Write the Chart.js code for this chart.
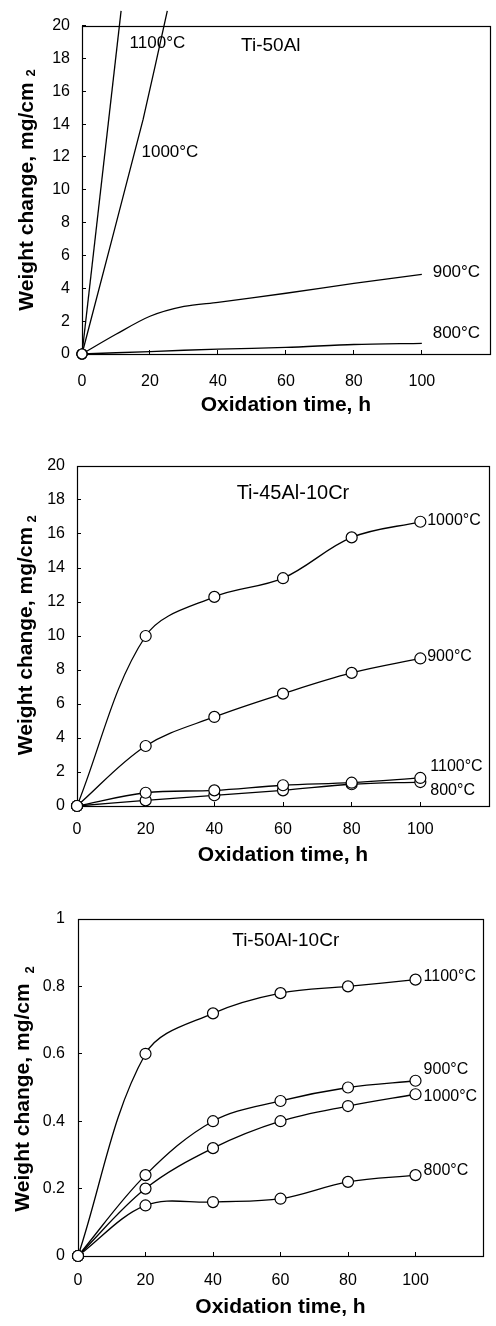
<!DOCTYPE html>
<html><head><meta charset="utf-8">
<script src="https://cdn.jsdelivr.net/npm/chart.js@4.4.0/dist/chart.umd.min.js"></script>
<style>
body{margin:0;background:#fff;width:496px;height:1326px;position:relative;overflow:hidden}
canvas{position:absolute;left:0}
</style></head><body>
<canvas id="c1" width="496" height="420" style="top:0"></canvas>
<canvas id="c2" width="496" height="440" style="top:440px"></canvas>
<canvas id="c3" width="496" height="446" style="top:880px"></canvas>
<script>
// ---------- DATA ----------
const xTicksMax = 100;            // last labelled hour
const hours = [0, 20, 40, 60, 80, 100];

// Ti-50Al (no symbols except origin)
const p1_1100_t = [0, 11.5];
const p1_1100_w = [0, 20.9];
const p1_1000_t = [0, 18, 25.1];
const p1_1000_w = [0, 14.3, 20.9];
const p1_900_t  = [0, 10, 20, 30, 40, 60, 80, 100];
const p1_900_w  = [0, 1.2, 2.3, 2.9, 3.15, 3.7, 4.3, 4.85];
const p1_800_t  = [0, 20, 40, 60, 80, 100];
const p1_800_w  = [0, 0.15, 0.3, 0.4, 0.58, 0.65];

// Ti-45Al-10Cr
const p2_1000 = [0, 10, 12.3, 13.4, 15.8, 16.72];
const p2_900  = [0, 3.53, 5.24, 6.61, 7.83, 8.68];
const p2_1100 = [0, 0.78, 0.92, 1.22, 1.37, 1.65];
const p2_800  = [0, 0.33, 0.63, 0.92, 1.28, 1.41];

// Ti-50Al-10Cr
const p3_1100 = [0, 0.6, 0.72, 0.78, 0.8, 0.82];
const p3_900  = [0, 0.24, 0.4, 0.46, 0.5, 0.52];
const p3_1000 = [0, 0.2, 0.32, 0.4, 0.445, 0.48];
const p3_800  = [0, 0.15, 0.16, 0.17, 0.22, 0.24];

// tick settings
const p1_yTicks = {min: 0, max: 20, step: 2};
const p2_yTicks = {min: 0, max: 20, step: 2};
const p3_yTicks = {min: 0, max: 1, step: 0.2};
const xRange = {min: 0, max: 120, step: 20};

// text
const xTitle = 'Oxidation time, h';
const yTitle = 'Weight change, mg/cm';

// ---------- RENDER ----------
const FONT = '"Liberation Sans", Arial, Helvetica, sans-serif';
const zip = (t, w) => t.map((v, i) => ({x: v, y: w[i]}));

function makePlugin(cfg) {
  return {
    id: 'annot',
    beforeDatasetsDraw(chart) {
      const a = chart.chartArea, c = chart.ctx;
      c.save(); c.strokeStyle = '#000'; c.lineWidth = 1.2;
      c.strokeRect(Math.round(a.left) + 0.5, Math.round(a.top) + 0.5,
                   Math.round(a.right - a.left), Math.round(a.bottom - a.top));
      c.restore();
    },
    afterDraw(chart) {
      const c = chart.ctx, a = chart.chartArea;
      const xs = chart.scales.x, ys = chart.scales.y;
      c.save();
      c.fillStyle = '#000';
      cfg.labels.forEach(l => {
        c.font = (l.size || 16) + 'px ' + FONT;
        c.textAlign = 'left'; c.textBaseline = 'middle';
        c.fillText(l.text, xs.getPixelForValue(l.x), ys.getPixelForValue(l.y));
      });
      c.font = 'bold 21px ' + FONT;
      c.textAlign = 'center'; c.textBaseline = 'middle';
      c.fillText(xTitle, (a.left + a.right) / 2, cfg.xTitleY);
      c.translate(cfg.yT.cx, cfg.yT.cy);
      c.rotate(-Math.PI / 2);
      c.fillText(yTitle, 0, 0);
      c.font = 'bold 13px ' + FONT;
      c.fillText('2', cfg.yT.u2, cfg.yT.v2);
      c.restore();
    }
  };
}

function lineDs(data, withPts, tension) {
  return {
    data, borderColor: '#000', borderWidth: 1.3,
    tension: tension === undefined ? 0.35 : tension,
    pointStyle: 'circle', pointBackgroundColor: '#fff', pointBorderColor: '#000',
    pointBorderWidth: 1.2,
    pointRadius: withPts ? 5.5 : (ctx => ctx.dataIndex === 0 ? 5 : 0),
    pointHoverRadius: withPts ? 5.5 : 0,
    clip: false, fill: false
  };
}

function makeChart(id, datasets, geo, yT, cfg) {
  const canvas = document.getElementById(id);
  const H = canvas.height;
  new Chart(canvas, {
    type: 'line',
    data: {datasets},
    plugins: [makePlugin(cfg)],
    options: {
      responsive: false, animation: false, devicePixelRatio: 1,
      layout: {padding: {top: geo.top, right: 496 - geo.right, left: 0, bottom: 0}},
      plugins: {legend: {display: false}, tooltip: {enabled: false}},
      scales: {
        x: {
          type: 'linear', min: xRange.min, max: xRange.max,
          afterFit: s => { s.height = H - geo.bottom; },
          afterBuildTicks: s => { s.ticks = s.ticks.filter(t => t.value <= xTicksMax); },
          ticks: {stepSize: xRange.step, color: '#000', font: {family: FONT, size: 16},
                  padding: geo.xPad, maxRotation: 0},
          grid: {drawOnChartArea: false, drawTicks: true, tickLength: -4, color: '#000', lineWidth: 1},
          border: {display: false}
        },
        y: {
          type: 'linear', min: yT.min, max: yT.max,
          afterFit: s => { s.width = geo.left; },
          ticks: {stepSize: yT.step, color: '#000', font: {family: FONT, size: 16}, padding: geo.yPad,
                  callback: v => String(Math.round(v * 10) / 10)},
          grid: {drawOnChartArea: false, drawTicks: true, tickLength: -4, color: '#000', lineWidth: 1},
          border: {display: false}
        }
      }
    }
  });
}

// Panel 1
makeChart('c1', [
  lineDs(zip(p1_1100_t, p1_1100_w), false, 0),
  lineDs(zip(p1_1000_t, p1_1000_w), false, 0.1),
  lineDs(zip(p1_900_t, p1_900_w), false, 0.3),
  lineDs(zip(p1_800_t, p1_800_w), false, 0.3)
], {left: 82, right: 491, top: 14, bottom: 354, xPad: 22, yPad: 16}, p1_yTicks, {
  labels: [
    {text: '1100°C', x: 14.0, y: 18.9, size: 17},
    {text: 'Ti-50Al', x: 46.8, y: 18.8, size: 19},
    {text: '1000°C', x: 17.5, y: 12.3, size: 17},
    {text: '900°C', x: 103.2, y: 4.96, size: 17},
    {text: '800°C', x: 103.2, y: 1.24, size: 17}
  ],
  xTitleY: 405,
  yT: {cx: 27, cy: 196.5, u2: 123.5, v2: 4.5}
});

// Panel 2
makeChart('c2', [
  lineDs(zip(hours, p2_1000), true),
  lineDs(zip(hours, p2_900), true),
  lineDs(zip(hours, p2_1100), true),
  lineDs(zip(hours, p2_800), true)
], {left: 77, right: 489, top: 26, bottom: 366, xPad: 18, yPad: 16}, p2_yTicks, {
  labels: [
    {text: 'Ti-45Al-10Cr', x: 46.5, y: 18.4, size: 20},
    {text: '1000°C', x: 102, y: 16.8, size: 16},
    {text: '900°C', x: 102, y: 8.8, size: 16},
    {text: '1100°C', x: 102.9, y: 2.3, size: 16},
    {text: '800°C', x: 102.9, y: 0.93, size: 16}
  ],
  xTitleY: 415,
  yT: {cx: 26, cy: 201, u2: 122, v2: 6}
});

// Panel 3
makeChart('c3', [
  lineDs(zip(hours, p3_1100), true),
  lineDs(zip(hours, p3_900), true),
  lineDs(zip(hours, p3_1000), true),
  lineDs(zip(hours, p3_800), true)
], {left: 78, right: 483, top: 39, bottom: 376, xPad: 19, yPad: 17}, p3_yTicks, {
  labels: [
    {text: 'Ti-50Al-10Cr', x: 45.7, y: 0.934, size: 19},
    {text: '1100°C', x: 102.4, y: 0.83, size: 16},
    {text: '900°C', x: 102.4, y: 0.552, size: 16},
    {text: '1000°C', x: 102.4, y: 0.473, size: 16},
    {text: '800°C', x: 102.4, y: 0.253, size: 16}
  ],
  xTitleY: 427,
  yT: {cx: 23, cy: 217.5, u2: 127.5, v2: 7}
});
</script>
</body></html>
